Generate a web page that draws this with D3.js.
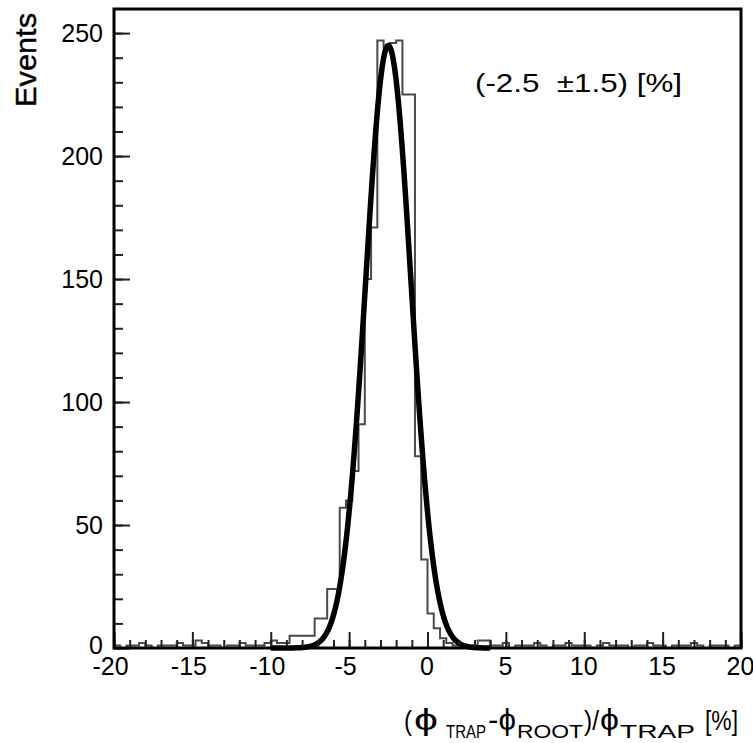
<!DOCTYPE html>
<html>
<head>
<meta charset="utf-8">
<script src="https://cdn.jsdelivr.net/npm/d3@7"></script>
<style>
  html, body { margin: 0; padding: 0; background: #fff; }
  svg { display: block; }
  text { font-family: "Liberation Sans", Arial, sans-serif; fill: #000; }
</style>
</head>
<body>
<svg id="chart" width="753" height="743"></svg>
<script>
// ---------------- data ----------------
const binLow = -20;          // first bin lower edge [%]
const binWidth = 0.4;        // bin width [%]
// event counts per bin (100 bins from -20 to 20)
const binCounts = [
  1,0,1,1,2,1,0,1,1,1,2,1,1,3,2,1,1,0,1,1,2,1,1,1,2,3,2,   // -20 .. -9.6
  2,5,5,5,5,12,12,24,24,57,60,72,91,150,171,               // -9.2 .. -3.6
  247,244,246,247,225,225,78,36,14,8,4,2,1,1,0,1,3,3,       // -3.2 .. 3.6
  1,1,2,0,1,1,1,2,1,0,1,1,2,1,1,1,0,1,2,1,
  1,1,0,1,1,2,1,1,0,1,1,1,2,1,0,1,1,1,0,1                  // 4.0 .. 19.6
];
// Gaussian fit parameters
const fitConstant = 245;
const fitMean = -2.5;
const fitSigma = 1.45;
const fitRange = [-10, 4];
const xMajorTicks = [-20, -15, -10, -5, 0, 5, 10, 15, 20];
const xMinorTicks = d3.range(-20, 20.5, 1);
const yMajorTicks = [0, 50, 100, 150, 200, 250];
const yMinorTicks = d3.range(0, 260, 10);
const yTitle = "Events";
const fitLabel = "(-2.5  \u00B11.5) [%]";
// x title pieces: [text, kind]  (kind: "m" main, "s" subscript)
const xTitleParts = [
  ["(", "m"], ["\u03D5", "m"], ["TRAP", "s"], ["-\u03D5", "m"],
  ["ROOT", "s"], [")/", "m"], ["\u03D5", "m"], ["TRAP", "s"], ["[%]", "m"]
];

// ---------------- layout ----------------
const svg = d3.select("#chart");
const L = 114, R = 741, T = 9, B = 648;
const x = d3.scaleLinear().domain([-20, 20]).range([L, R]);
const y = d3.scaleLinear().domain([0, 259.8]).range([B, T]);

// histogram outline
const pts = [];
binCounts.forEach((c, i) => {
  const x0 = binLow + i * binWidth, x1 = x0 + binWidth;
  pts.push([x0, c], [x1, c]);
});
svg.append("path")
  .attr("d", d3.line().x(d => x(d[0])).y(d => y(d[1]))(pts))
  .attr("fill", "none")
  .attr("stroke", "#4a4a4a")
  .attr("stroke-width", 2);

// fit curve
const fitPts = d3.range(fitRange[0], fitRange[1] + 0.001, 0.05).map(v =>
  [v, fitConstant * Math.exp(-0.5 * Math.pow((v - fitMean) / fitSigma, 2))]);
svg.append("path")
  .attr("d", d3.line().x(d => x(d[0])).y(d => y(d[1])).curve(d3.curveBasis)(fitPts))
  .attr("fill", "none")
  .attr("stroke", "#000")
  .attr("stroke-width", 5.5)
  .attr("stroke-linejoin", "round");

// axes
function styleAxis(g) {
  g.select(".domain").remove();
  g.selectAll("line").attr("stroke", "#222").attr("stroke-width", 2);
  g.selectAll("text").style("font-family", '"Liberation Sans", Arial, sans-serif')
    .style("font-size", "25px").attr("fill", "#000");
}
svg.append("g").attr("transform", `translate(0,${B})`)
  .call(d3.axisBottom(x).tickValues(xMinorTicks).tickSize(-8).tickFormat(""))
  .call(styleAxis);
const xg = svg.append("g").attr("transform", `translate(0,${B})`)
  .call(d3.axisBottom(x).tickValues(xMajorTicks).tickSize(-16).tickPadding(9).tickFormat(d => String(d)))
  .call(styleAxis);
xg.selectAll("text").attr("dx", d => d < 0 ? "-4" : "-1");
svg.append("g").attr("transform", `translate(${L},0)`)
  .call(d3.axisLeft(y).tickValues(yMinorTicks).tickSize(-9).tickFormat(""))
  .call(styleAxis);
const yg = svg.append("g").attr("transform", `translate(${L},0)`)
  .call(d3.axisLeft(y).tickValues(yMajorTicks).tickSize(-16).tickPadding(11).tickFormat(d => String(d)))
  .call(styleAxis);
yg.selectAll("text").attr("dy", d => d === 0 ? "0.2em" : "0.32em");

// frame
svg.append("rect")
  .attr("x", L).attr("y", T).attr("width", R - L).attr("height", B - T)
  .attr("fill", "none").attr("stroke", "#000").attr("stroke-width", 3);

// y title
svg.append("text")
  .attr("transform", `translate(36,13) rotate(-90)`)
  .attr("text-anchor", "end")
  .attr("textLength", 94).attr("lengthAdjust", "spacingAndGlyphs")
  .style("font-size", "30px")
  .style("stroke", "#000").style("stroke-width", 0.4)
  .text(yTitle);

// fit label
svg.append("text")
  .attr("x", 475).attr("y", 92)
  .attr("textLength", 207).attr("lengthAdjust", "spacingAndGlyphs")
  .style("font-size", "26px")
  .style("white-space", "pre")
  .text(fitLabel);

// x title (pieces placed left to right)
const partX = [404, 414, 446, 488, 517, 584, 600, 620, 705];
const partW = [8, 24, 40, 28, 66, 15, 19, 75, 33];
xTitleParts.forEach(([t, k], i) => {
  svg.append("text")
    .attr("x", partX[i])
    .attr("y", k === "s" ? 738 : 730)
    .attr("textLength", partW[i]).attr("lengthAdjust", "spacingAndGlyphs")
    .style("font-size", k === "s" ? "18px" : (t.includes("\u03D5") ? "30px" : "27px"))
    .text(t);
});
</script>
</body>
</html>
